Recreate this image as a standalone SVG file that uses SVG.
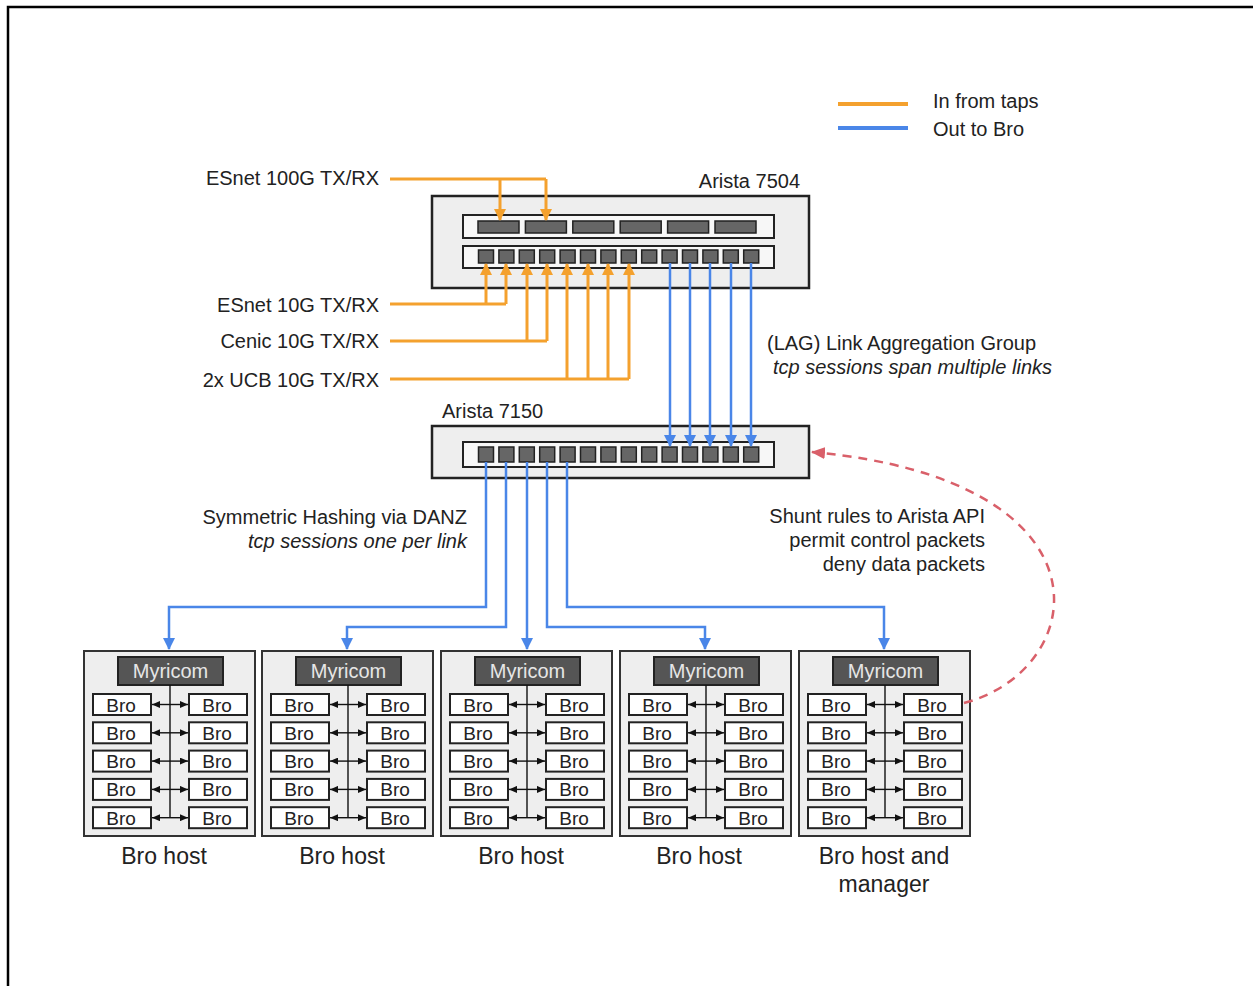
<svg xmlns="http://www.w3.org/2000/svg" xmlns:xlink="http://www.w3.org/1999/xlink" width="1253" height="986" viewBox="0 0 1253 986">
<style>
text{font-family:"Liberation Sans",Arial,sans-serif;fill:#222}
.lbl{font-size:20px}
.it{font-style:italic}
.r{text-anchor:end}
.c{text-anchor:middle}
.sw{fill:#eeeeee;stroke:#222;stroke-width:2.5}
.strip{fill:#f7f7f7;stroke:#222;stroke-width:2}
.port{fill:#666;stroke:#222;stroke-width:1.5}
.host{fill:#eeeeee;stroke:#333;stroke-width:2}
.myri{fill:#555;stroke:#222;stroke-width:2}
.bro{fill:#fff;stroke:#222;stroke-width:2}
.brot{font-size:19px}
.myrit{font-size:20px;fill:#e6e6e6}
.hl{font-size:23px}
.or{fill:none;stroke:#f4a12e;stroke-width:3}
.bl{fill:none;stroke:#4a86e8;stroke-width:2.5}
.in{fill:none;stroke:#111;stroke-width:1.4}
</style>
<defs>
<marker id="ao" markerUnits="userSpaceOnUse" markerWidth="12" markerHeight="12" refX="11" refY="6" orient="auto"><path d="M0,0 L12,6 L0,12 z" fill="#f4a12e"/></marker>
<marker id="ab" markerUnits="userSpaceOnUse" markerWidth="12" markerHeight="12" refX="11" refY="6" orient="auto"><path d="M0,0 L12,6 L0,12 z" fill="#4a86e8"/></marker>
<marker id="ar" markerUnits="userSpaceOnUse" markerWidth="14" markerHeight="12" refX="13" refY="6" orient="auto"><path d="M0,0 L14,6 L0,12 z" fill="#d9606a"/></marker>
<marker id="ak" markerUnits="userSpaceOnUse" markerWidth="8" markerHeight="7" refX="8" refY="3.5" orient="auto"><path d="M0,0 L8,3.5 L0,7 z" fill="#111"/></marker>
<g id="hostTpl">
<rect class="host" x="0" y="0" width="171" height="185"/>
<rect class="myri" x="34" y="6" width="105" height="28"/>
<text class="myrit c" x="86.5" y="27">Myricom</text>
<path class="in" d="M86,34 V167"/>
<g>
<rect class="bro" x="9" y="43" width="58" height="21"/><rect class="bro" x="105" y="43" width="58" height="21"/>
<rect class="bro" x="9" y="71.3" width="58" height="21"/><rect class="bro" x="105" y="71.3" width="58" height="21"/>
<rect class="bro" x="9" y="99.6" width="58" height="21"/><rect class="bro" x="105" y="99.6" width="58" height="21"/>
<rect class="bro" x="9" y="127.9" width="58" height="21"/><rect class="bro" x="105" y="127.9" width="58" height="21"/>
<rect class="bro" x="9" y="156.2" width="58" height="21"/><rect class="bro" x="105" y="156.2" width="58" height="21"/>
</g>
<g>
<text class="brot c" x="37" y="60.5">Bro</text><text class="brot c" x="133" y="60.5">Bro</text>
<text class="brot c" x="37" y="88.8">Bro</text><text class="brot c" x="133" y="88.8">Bro</text>
<text class="brot c" x="37" y="117.1">Bro</text><text class="brot c" x="133" y="117.1">Bro</text>
<text class="brot c" x="37" y="145.4">Bro</text><text class="brot c" x="133" y="145.4">Bro</text>
<text class="brot c" x="37" y="173.7">Bro</text><text class="brot c" x="133" y="173.7">Bro</text>
</g>
<g>
<path class="in" d="M86,53.5 H68" marker-end="url(#ak)"/><path class="in" d="M86,53.5 H104" marker-end="url(#ak)"/>
<path class="in" d="M86,81.8 H68" marker-end="url(#ak)"/><path class="in" d="M86,81.8 H104" marker-end="url(#ak)"/>
<path class="in" d="M86,110.1 H68" marker-end="url(#ak)"/><path class="in" d="M86,110.1 H104" marker-end="url(#ak)"/>
<path class="in" d="M86,138.4 H68" marker-end="url(#ak)"/><path class="in" d="M86,138.4 H104" marker-end="url(#ak)"/>
<path class="in" d="M86,166.7 H68" marker-end="url(#ak)"/><path class="in" d="M86,166.7 H104" marker-end="url(#ak)"/>
</g>
</g>
</defs>
<rect x="0" y="0" width="1253" height="986" fill="#fff"/>
<path d="M8,986 V7 H1253" fill="none" stroke="#000" stroke-width="2.5"/>

<g id="legend">
<path d="M838,104 H908" stroke="#f4a12e" stroke-width="4"/>
<path d="M838,128 H908" stroke="#4a86e8" stroke-width="4"/>
<text class="lbl" x="933" y="108">In from taps</text>
<text class="lbl" x="933" y="136">Out to Bro</text>
</g>

<g id="arista7504">
<rect class="sw" x="432" y="196" width="377" height="92"/>
<rect class="strip" x="463" y="215" width="311" height="23"/>
<rect class="port" x="478" y="221" width="41" height="12"/>
<rect class="port" x="525.4" y="221" width="41" height="12"/>
<rect class="port" x="572.8" y="221" width="41" height="12"/>
<rect class="port" x="620.2" y="221" width="41" height="12"/>
<rect class="port" x="667.6" y="221" width="41" height="12"/>
<rect class="port" x="715" y="221" width="41" height="12"/>
<rect class="strip" x="463" y="246" width="311" height="22"/>
<g>
<rect class="port" x="478.5" y="250" width="15" height="13"/>
<rect class="port" x="498.9" y="250" width="15" height="13"/>
<rect class="port" x="519.3" y="250" width="15" height="13"/>
<rect class="port" x="539.7" y="250" width="15" height="13"/>
<rect class="port" x="560.1" y="250" width="15" height="13"/>
<rect class="port" x="580.5" y="250" width="15" height="13"/>
<rect class="port" x="600.9" y="250" width="15" height="13"/>
<rect class="port" x="621.3" y="250" width="15" height="13"/>
<rect class="port" x="641.7" y="250" width="15" height="13"/>
<rect class="port" x="662.1" y="250" width="15" height="13"/>
<rect class="port" x="682.5" y="250" width="15" height="13"/>
<rect class="port" x="702.9" y="250" width="15" height="13"/>
<rect class="port" x="723.3" y="250" width="15" height="13"/>
<rect class="port" x="743.7" y="250" width="15" height="13"/>
</g>
<text class="lbl r" x="800" y="188">Arista 7504</text>
</g>

<g id="arista7150">
<rect class="sw" x="432" y="426" width="377" height="52"/>
<rect class="strip" x="463" y="442" width="311" height="25"/>
<g>
<rect class="port" x="478.5" y="447" width="15" height="15"/>
<rect class="port" x="498.9" y="447" width="15" height="15"/>
<rect class="port" x="519.3" y="447" width="15" height="15"/>
<rect class="port" x="539.7" y="447" width="15" height="15"/>
<rect class="port" x="560.1" y="447" width="15" height="15"/>
<rect class="port" x="580.5" y="447" width="15" height="15"/>
<rect class="port" x="600.9" y="447" width="15" height="15"/>
<rect class="port" x="621.3" y="447" width="15" height="15"/>
<rect class="port" x="641.7" y="447" width="15" height="15"/>
<rect class="port" x="662.1" y="447" width="15" height="15"/>
<rect class="port" x="682.5" y="447" width="15" height="15"/>
<rect class="port" x="702.9" y="447" width="15" height="15"/>
<rect class="port" x="723.3" y="447" width="15" height="15"/>
<rect class="port" x="743.7" y="447" width="15" height="15"/>
</g>
<text class="lbl" x="442" y="418">Arista 7150</text>
</g>

<g id="host1"><use xlink:href="#hostTpl" href="#hostTpl" x="84" y="651"/><text class="hl c" x="164" y="864">Bro host</text></g>
<g id="host2"><use xlink:href="#hostTpl" href="#hostTpl" x="262" y="651"/><text class="hl c" x="342" y="864">Bro host</text></g>
<g id="host3"><use xlink:href="#hostTpl" href="#hostTpl" x="441" y="651"/><text class="hl c" x="521" y="864">Bro host</text></g>
<g id="host4"><use xlink:href="#hostTpl" href="#hostTpl" x="620" y="651"/><text class="hl c" x="699" y="864">Bro host</text></g>
<g id="host5"><use xlink:href="#hostTpl" href="#hostTpl" x="799" y="651"/><text class="hl c" x="884" y="864">Bro host and</text><text class="hl c" x="884" y="892">manager</text></g>

<g id="labels">
<text class="lbl r" x="379" y="185">ESnet 100G TX/RX</text>
<text class="lbl r" x="379" y="312">ESnet 10G TX/RX</text>
<text class="lbl r" x="379" y="348">Cenic 10G TX/RX</text>
<text class="lbl r" x="379" y="387">2x UCB 10G TX/RX</text>
<text class="lbl" x="767" y="350">(LAG) Link Aggregation Group</text>
<text class="lbl it" x="773" y="374">tcp sessions span multiple links</text>
<text class="lbl r" x="467" y="524">Symmetric Hashing via DANZ</text>
<text class="lbl r it" x="467" y="548">tcp sessions one per link</text>
<text class="lbl r" x="985" y="523">Shunt rules to Arista API</text>
<text class="lbl r" x="985" y="547">permit control packets</text>
<text class="lbl r" x="985" y="571">deny data packets</text>
</g>

<g id="connectors">
<path class="or" d="M390,179 H546"/>
<path class="or" d="M500,179 V220" marker-end="url(#ao)"/>
<path class="or" d="M546,179 V220" marker-end="url(#ao)"/>
<path class="or" d="M390,304 H506"/>
<path class="or" d="M486,304 V264" marker-end="url(#ao)"/>
<path class="or" d="M506,304 V264" marker-end="url(#ao)"/>
<path class="or" d="M390,341 H547"/>
<path class="or" d="M527,341 V264" marker-end="url(#ao)"/>
<path class="or" d="M547,341 V264" marker-end="url(#ao)"/>
<path class="or" d="M390,379 H629"/>
<path class="or" d="M567,379 V264" marker-end="url(#ao)"/>
<path class="or" d="M588,379 V264" marker-end="url(#ao)"/>
<path class="or" d="M608,379 V264" marker-end="url(#ao)"/>
<path class="or" d="M629,379 V264" marker-end="url(#ao)"/>

<path class="bl" d="M670,263 V446" marker-end="url(#ab)"/>
<path class="bl" d="M690,263 V446" marker-end="url(#ab)"/>
<path class="bl" d="M710,263 V446" marker-end="url(#ab)"/>
<path class="bl" d="M731,263 V446" marker-end="url(#ab)"/>
<path class="bl" d="M751,263 V446" marker-end="url(#ab)"/>

<path class="bl" d="M486,462 V607 H169 V649" marker-end="url(#ab)"/>
<path class="bl" d="M506,462 V627 H347 V649" marker-end="url(#ab)"/>
<path class="bl" d="M527,462 V649" marker-end="url(#ab)"/>
<path class="bl" d="M547,462 V627 H705 V649" marker-end="url(#ab)"/>
<path class="bl" d="M567,462 V607 H884 V649" marker-end="url(#ab)"/>

<path d="M964,703 C1090,670 1120,480 812,452" fill="none" stroke="#d9606a" stroke-width="2.5" stroke-dasharray="9,7" marker-end="url(#ar)"/>
</g>
</svg>
